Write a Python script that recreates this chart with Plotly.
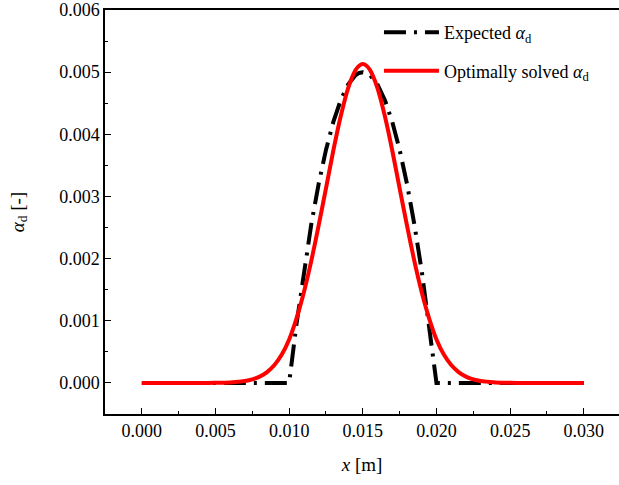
import plotly.graph_objects as go

# x positions [m]
x_vals = [0.000, 0.002, 0.004, 0.005, 0.006, 0.0065, 0.007, 0.0075, 0.008, 0.0085,
          0.009, 0.0095, 0.010, 0.0105, 0.011, 0.0115, 0.012, 0.0125, 0.013, 0.0135,
          0.014, 0.0145, 0.01475, 0.015, 0.01525, 0.0155, 0.016, 0.0165, 0.017, 0.0175, 0.018, 0.0185,
          0.019, 0.0195, 0.020, 0.0205, 0.021, 0.0215, 0.022, 0.0225, 0.023, 0.0235,
          0.024, 0.025, 0.026, 0.028, 0.030]

# Expected alpha_d
expected = [0.0, 0.0, 0.0, 0.0, 0.0, 0.0, 0.0, 0.0, 0.0, 0.0,
            0.0, 0.0, 0.0, 0.00095, 0.0018, 0.00255, 0.0032, 0.00375, 0.0042, 0.00455,
            0.0048, 0.00495, 0.004988, 0.0050, 0.004988, 0.00495, 0.0048, 0.00455, 0.0042, 0.00375, 0.0032, 0.00255,
            0.0018, 0.00095, 0.0, 0.0, 0.0, 0.0, 0.0, 0.0, 0.0, 0.0,
            0.0, 0.0, 0.0, 0.0, 0.0]

# Optimally solved alpha_d
solved = [0.0, 0.0, 0.0, 0.000002, 0.000008, 0.000019, 0.000031, 0.000057, 0.000102, 0.000175,
          0.000288, 0.000456, 0.000700, 0.001040, 0.001460, 0.001960, 0.002530, 0.003130, 0.003740, 0.004290,
          0.004740, 0.005030, 0.005104, 0.005130, 0.005104, 0.005030, 0.004740, 0.004290, 0.003740, 0.003130, 0.002530, 0.001960,
          0.001460, 0.001040, 0.000700, 0.000456, 0.000288, 0.000175, 0.000102, 0.000057, 0.000031, 0.000019,
          0.000008, 0.000002, 0.0, 0.0, 0.0]

x_ticks = [0.000, 0.005, 0.010, 0.015, 0.020, 0.025, 0.030]
y_ticks = [0.000, 0.001, 0.002, 0.003, 0.004, 0.005, 0.006]

FONT = "Liberation Serif"

fig = go.Figure()
fig.add_trace(go.Scatter(
    x=x_vals, y=expected, mode="lines",
    name="Expected <i>α</i><sub>d</sub>",
    line=dict(color="black", width=4, dash="22px,8px,3px,8px"),
    legendgroup="a",
))
fig.add_trace(go.Scatter(
    x=x_vals, y=solved, mode="lines",
    name="Optimally solved <i>α</i><sub>d</sub>",
    line=dict(color="#ff0000", width=4, shape="spline", smoothing=0.6),
    legendgroup="b",
))

fig.update_layout(
    width=619, height=485,
    margin=dict(l=105, r=0, t=8, b=71),
    paper_bgcolor="white", plot_bgcolor="white",
    font=dict(family=FONT, size=18, color="black"),
    showlegend=True,
    legend=dict(
        x=0.533, y=0.99, xanchor="left", yanchor="top",
        bgcolor="rgba(0,0,0,0)", borderwidth=0,
        font=dict(family=FONT, size=18, color="black"),
        tracegroupgap=12, itemwidth=55,
    ),
    xaxis=dict(
        range=[-0.0025, 0.03239],
        tickmode="array", tickvals=x_ticks, tickformat=".3f",
        ticks="inside", ticklen=6, tickwidth=1, tickcolor="black",
        minor=dict(ticks="inside", ticklen=3.5, dtick=0.0025, tick0=0, tickcolor="black"),
        showline=True, linecolor="black", linewidth=1.5, mirror=True,
        showgrid=False, zeroline=False,
        title=dict(text="<i>x</i> [m]", font=dict(family=FONT, size=19), standoff=17),
        tickfont=dict(family=FONT, size=18),
        ticklabeloverflow="allow",
    ),
    yaxis=dict(
        range=[-0.0005, 0.0060005],
        tickmode="array", tickvals=y_ticks, tickformat=".3f",
        ticks="inside", ticklen=6, tickwidth=1, tickcolor="black",
        minor=dict(ticks="inside", ticklen=3.5, dtick=0.0005, tick0=0, tickcolor="black"),
        showline=True, linecolor="black", linewidth=1.5, mirror=False,
        showgrid=False, zeroline=False,
        title=dict(text="<i>α</i><sub>d</sub> [-]", font=dict(family=FONT, size=19), standoff=30),
        tickfont=dict(family=FONT, size=18),
        ticklabeloverflow="allow",
    ),
)

fig.write_html("out.html", config={"displayModeBar": False},
               post_script="document.body.style.margin='0';document.body.style.overflow='hidden';")
